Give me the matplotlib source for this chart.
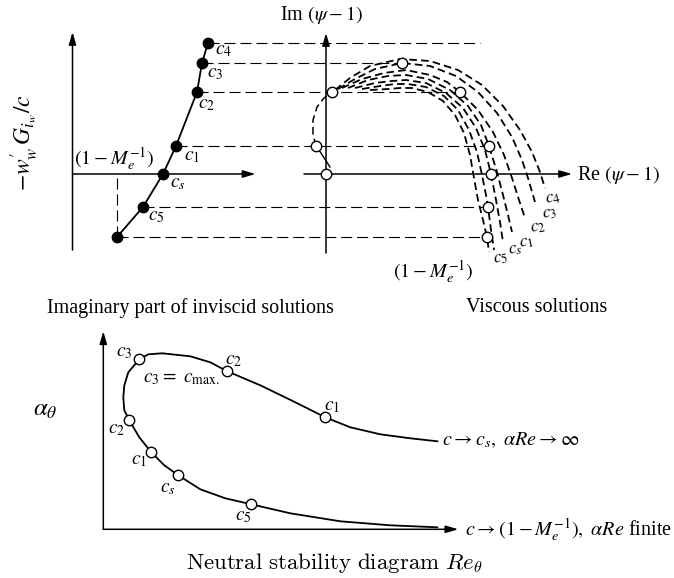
import numpy as np
import matplotlib.pyplot as plt

plt.rcParams['font.family'] = ['Liberation Serif', 'DejaVu Serif']
plt.rcParams['mathtext.fontset'] = 'stix'
plt.rcParams['lines.scale_dashes'] = False

# --- inviscid solutions (Re, -w'G/c) for each phase speed, top-left panel
inv_names = ['c_4', 'c_3', 'c_2', 'c_1', 'c_s', 'c_5', 'M']
inv_re = [13.55, 12.95, 12.45, 10.35, 9.05, 7.05, 4.45]
inv_im = [13.1, 11.1, 8.2, 2.8, 0.0, -3.3, -6.3]

# where each Im level meets the viscous curves (Re of the right-most crossing)
visc_hit_re = [15.4, 7.6, 13.4, 16.3, None, 16.2, 16.1]

# --- viscous solution curves, top-right panel
visc_curves = {
    'c_4': ([0.9, 2.4, 4.4, 7.4, 10.4, 13.2, 15.6, 17.7, 19.4, 20.6, 21.4, 21.9],
            [8.4, 9.6, 10.8, 11.5, 11.3, 10.4, 8.9, 6.8, 4.4, 2.2, 0.2, -1.4]),
    'c_3': ([1.2, 2.9, 4.9, 7.6, 10.4, 13.0, 15.2, 17.1, 18.6, 19.6, 20.2, 20.9],
            [8.5, 9.5, 10.5, 11.1, 10.8, 9.8, 8.2, 6.1, 3.7, 1.4, -0.4, -2.8]),
    'c_2': ([1.6, 3.6, 5.8, 8.0, 10.4, 12.1, 13.4, 15.2, 16.7, 17.8, 18.6, 19.3, 19.9],
            [8.6, 9.5, 10.1, 10.4, 9.9, 9.2, 8.2, 6.4, 4.2, 1.9, -0.4, -2.6, -4.4]),
    'c_1': ([2.2, 4.2, 6.2, 8.0, 10.2, 12.4, 14.2, 15.5, 16.3, 17.1, 17.7, 18.2, 18.6],
            [8.6, 9.4, 9.8, 9.9, 9.5, 8.4, 6.8, 4.9, 2.8, 0.2, -2.1, -4.1, -5.8]),
    'c_s': ([2.9, 4.9, 6.6, 8.0, 10.0, 12.0, 13.7, 15.0, 15.9, 16.5, 17.0, 17.4, 17.7],
            [8.6, 9.1, 9.3, 9.4, 9.1, 8.1, 6.6, 4.6, 2.4, 0.0, -2.6, -4.8, -6.8]),
    'c_5': ([3.6, 5.4, 6.9, 8.2, 10.0, 11.8, 13.2, 14.3, 15.1, 15.6, 16.0, 16.2, 16.5, 16.8],
            [8.5, 8.8, 9.0, 9.0, 8.7, 7.8, 6.4, 4.4, 2.2, -0.1, -2.1, -3.3, -5.6, -7.6]),
    'M': ([4.4, 6.2, 7.4, 8.6, 10.2, 11.7, 12.9, 13.8, 14.4, 14.8, 15.2, 15.7, 16.1, 16.3],
          [8.4, 8.5, 8.6, 8.6, 8.2, 7.3, 5.9, 4.1, 1.9, -0.4, -2.6, -4.6, -6.3, -7.8]),
}
# open circles: neutral points found on the viscous curves
visc_pts_re = [7.6, 0.6, 13.4, -1.0, 16.3, 0.0, 16.5, 16.2, 16.1]
visc_pts_im = [11.1, 8.2, 8.2, 2.8, 2.8, 0.0, 0.0, -3.3, -6.3]
# left-hand loop joining the low-c points
loop_re = [-1.0, -1.3, -1.3, -0.9, -0.2, 0.6]
loop_im = [2.8, 3.9, 5.4, 6.7, 7.6, 8.2]

# --- neutral stability curve (Re_theta, alpha_theta), bottom panel
neutral_re = [33.4, 30.7, 27.7, 24.7, 22.2, 19.2, 15.7, 12.4, 10.7, 8.7, 5.9, 4.5,
              3.6, 2.5, 2.1, 2.0, 2.1, 2.6, 3.6, 4.8, 6.1, 7.5, 9.7, 12.2, 14.8,
              18.7, 23.7, 28.7, 33.4]
neutral_alpha = [8.8, 9.1, 9.5, 10.2, 11.2, 12.7, 14.4, 15.8, 16.7, 17.3, 17.6, 17.5,
                 17.0, 15.7, 14.4, 13.2, 11.9, 10.9, 9.2, 7.7, 6.4, 5.4, 4.0, 3.1, 2.5,
                 1.6, 0.8, 0.4, 0.2]
neutral_pt_names = ['c_3', 'c_2', 'c_1', 'c_2', 'c_1', 'c_s', 'c_5']
neutral_pt_re = [3.6, 12.4, 22.2, 2.6, 4.8, 7.5, 14.8]
neutral_pt_alpha = [17.0, 15.8, 11.2, 10.9, 7.7, 5.4, 2.5]

# panel origins on the page (page units: 1 = 10 px)
INV0 = (7.25, 40.4)
VIS0 = (32.6, 40.4)
NEU0 = (10.33, 4.87)

fig = plt.figure(figsize=(6.74, 5.78), dpi=100)
ax = fig.add_axes([0, 0, 1, 1])
ax.set_xlim(0, 67.4)
ax.set_ylim(0, 57.8)
ax.axis('off')


def place(o, x, y):
    return np.asarray(x, dtype=float) + o[0], np.asarray(y, dtype=float) + o[1]


def arrow(o, x0, y0, x1, y1):
    (a, c), (b, d) = place(o, [x0, x1], [y0, y1])
    ax.annotate('', xy=(c, d), xytext=(a, b),
                arrowprops=dict(arrowstyle='-|>,head_length=0.75,head_width=0.22',
                                lw=1.1, color='k', shrinkA=0, shrinkB=0))


def label(o, x, y, s, size=14, **kw):
    px, py = place(o, x, y)
    ax.text(px, py, s, fontsize=size, ha=kw.pop('ha', 'center'),
            va=kw.pop('va', 'center'), **kw)


guide = dict(color='k', lw=0.8, dashes=(8, 3.5))
hollow = dict(marker='o', ms=7.5, mfc='white', mec='k', mew=1.0, ls='none', zorder=5)

# ---- inviscid panel
arrow(INV0, 0, -7.6, 0, 14.2)
arrow(INV0, 0, 0, 18.3, 0)
x, y = place(INV0, inv_re, inv_im)
ax.plot(x, y, color='k', lw=1.3, zorder=3)
ax.plot(x, y, 'o', color='k', ms=7.5, zorder=4)
ax.plot([x[-1], x[-1]], [y[-1], INV0[1]], **guide)

# horizontal guides carrying each Im level across to the viscous panel
for xi, yi, hit in zip(x, y, visc_hit_re):
    if hit is None:
        continue
    ax.plot([xi, hit + VIS0[0]], [yi, yi], **guide)

inv_label_pos = [(1.6, -0.8), (1.3, -1.0), (1.0, -1.2), (1.6, -1.0), (1.5, -0.9), (1.3, -0.9)]
for name, xi, yi, (dx, dy) in zip(inv_names[:-1], inv_re, inv_im, inv_label_pos):
    label(INV0, xi + dx, yi + dy, f'${name}$', size=14)
label(INV0, 0.2, 1.5, r'$(1-M_e^{-1})$', size=14.5, ha='left')
ax.text(2.5, 43.5, r"$-w_w^{\prime}\,G_{i_w}/c$", rotation=90, fontsize=17,
        ha='center', va='center')
ax.text(19.0, 27.0, 'Imaginary part of inviscid solutions', fontsize=14.5,
        ha='center', va='center')

# ---- viscous panel
arrow(VIS0, 0, -7.9, 0, 14.1)
arrow(VIS0, -2.2, 0, 24.6, 0)
label(VIS0, -0.4, 15.9, r'Im $(\psi-1)$', size=14.5)
label(VIS0, 25.1, -0.1, r'Re $(\psi-1)$', size=14.5, ha='left')

for name, (cx, cy) in visc_curves.items():
    px, py = place(VIS0, cx, cy)
    ax.plot(px, py, color='k', lw=1.3, dashes=(5.5, 3))

px, py = place(VIS0, loop_re, loop_im)
ax.plot(px, py, color='k', lw=1.1, dashes=(5.5, 3))
px, py = place(VIS0, [-0.7, 0.4], [2.4, 0.7])
ax.plot(px, py, color='k', lw=1.0)

px, py = place(VIS0, visc_pts_re, visc_pts_im)
ax.plot(px, py, **hollow)

end_labels = {'c_4': (22.7, -2.4), 'c_3': (22.4, -3.9), 'c_2': (21.2, -5.3),
              'c_1': (20.1, -6.8), 'c_s': (18.9, -7.5), 'c_5': (17.5, -8.4)}
for name, (lx, ly) in end_labels.items():
    label(VIS0, lx, ly, f'${name}$', size=13, rotation=12)
label(VIS0, 10.7, -9.8, r'$(1-M_e^{-1})$', size=14.5)
ax.text(53.7, 27.0, 'Viscous solutions', fontsize=14.5, ha='center', va='center')

# ---- neutral stability diagram
arrow(NEU0, 0, 0, 0, 19.8)
arrow(NEU0, 0, 0, 35.5, 0)
px, py = place(NEU0, neutral_re, neutral_alpha)
ax.plot(px, py, color='k', lw=1.3)
px, py = place(NEU0, neutral_pt_re, neutral_pt_alpha)
ax.plot(px, py, **hollow)

neutral_label_pos = [(-1.5, 0.7), (0.6, 1.1), (0.7, 1.1), (-1.3, -0.9),
                     (-1.2, -0.8), (-1.0, -1.3), (-0.8, -1.2)]
for name, xi, yi, (dx, dy) in zip(neutral_pt_names, neutral_pt_re, neutral_pt_alpha,
                                  neutral_label_pos):
    label(NEU0, xi + dx, yi + dy, f'${name}$', size=14)
label(NEU0, 4.0, 15.1, r'$c_3 =\ c_{\mathrm{max.}}$', size=14, ha='left')
label(NEU0, 33.9, 8.9, r'$c \rightarrow c_s,\ \alpha Re \rightarrow \infty$', size=14.5, ha='left')
label(NEU0, 36.2, -0.1, r'$c \rightarrow (1-M_e^{-1}),\ \alpha Re$ finite', size=14.5, ha='left')
ax.text(4.5, 16.8, r'$\alpha_\theta$', fontsize=18, ha='center', va='center')
ax.text(33.4, 1.5, r'$\mathrm{Neutral\ stability\ diagram}\ Re_\theta$', fontsize=16.5,
        ha='center', va='center', math_fontfamily='cm')

fig.savefig('out.png', dpi=100, facecolor='white')
